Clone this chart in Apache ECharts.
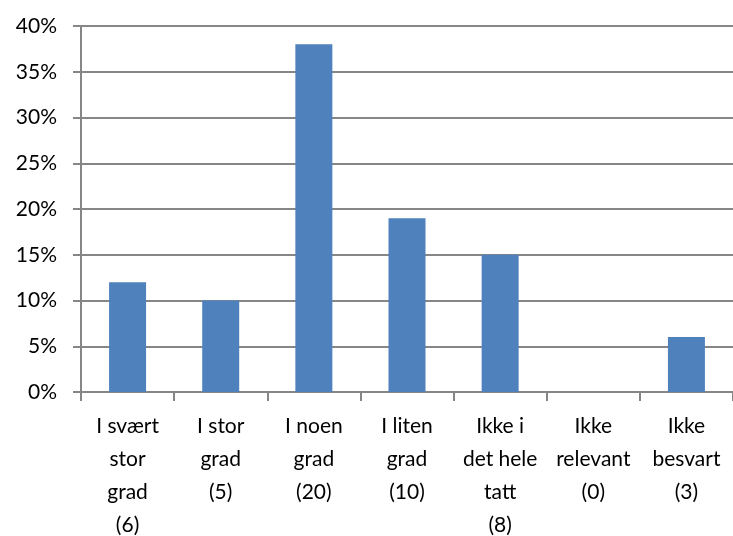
<!DOCTYPE html>
<html>
<head>
<meta charset="utf-8">
<script src="https://cdn.jsdelivr.net/npm/echarts@6/dist/echarts.min.js"></script>
<style>
  html, body { margin: 0; padding: 0; background: #fff; }
  #chart { width: 733px; height: 536px; }
</style>
</head>
<body>
<div id="chart"></div>
<script>
// kategorier og andeler (prosent)
const categories = [
  'I svært\nstor\ngrad\n(6)',
  'I stor\ngrad\n(5)',
  'I noen\ngrad\n(20)',
  'I liten\ngrad\n(10)',
  'Ikke i\ndet hele\ntatt\n(8)',
  'Ikke\nrelevant\n(0)',
  'Ikke\nbesvart\n(3)'
];
const values = [12, 10, 38, 19, 15, 0, 6];

const font = 'Lato, "Open Sans", sans-serif';
let myChart = echarts.init(document.getElementById('chart'));
myChart.setOption({
  animation: false,
  grid: { left: 81, right: 0, top: 26, bottom: 144, outerBoundsMode: 'none', containLabel: false },
  xAxis: {
    type: 'category',
    data: categories,
    axisLine: { lineStyle: { color: '#868686', width: 2 } },
    axisTick: { show: true, length: 9, lineStyle: { color: '#868686', width: 2 } },
    axisLabel: {
      color: '#000', fontFamily: font, fontSize: 21, lineHeight: 33,
      margin: 18, interval: 0
    },
    splitLine: { show: false }
  },
  yAxis: {
    type: 'value',
    min: 0, max: 40, interval: 5,
    axisLine: { show: true, lineStyle: { color: '#868686', width: 2 } },
    axisTick: { show: true, length: 8, lineStyle: { color: '#868686', width: 2 } },
    axisLabel: {
      color: '#000', fontFamily: font, fontSize: 21, margin: 24,
      formatter: '{value}%'
    },
    splitLine: { lineStyle: { color: '#868686', width: 2 } }
  },
  series: [{
    type: 'bar',
    data: values,
    barWidth: 37,
    itemStyle: { color: '#4F81BD' }
  }]
});
</script>
</body>
</html>
